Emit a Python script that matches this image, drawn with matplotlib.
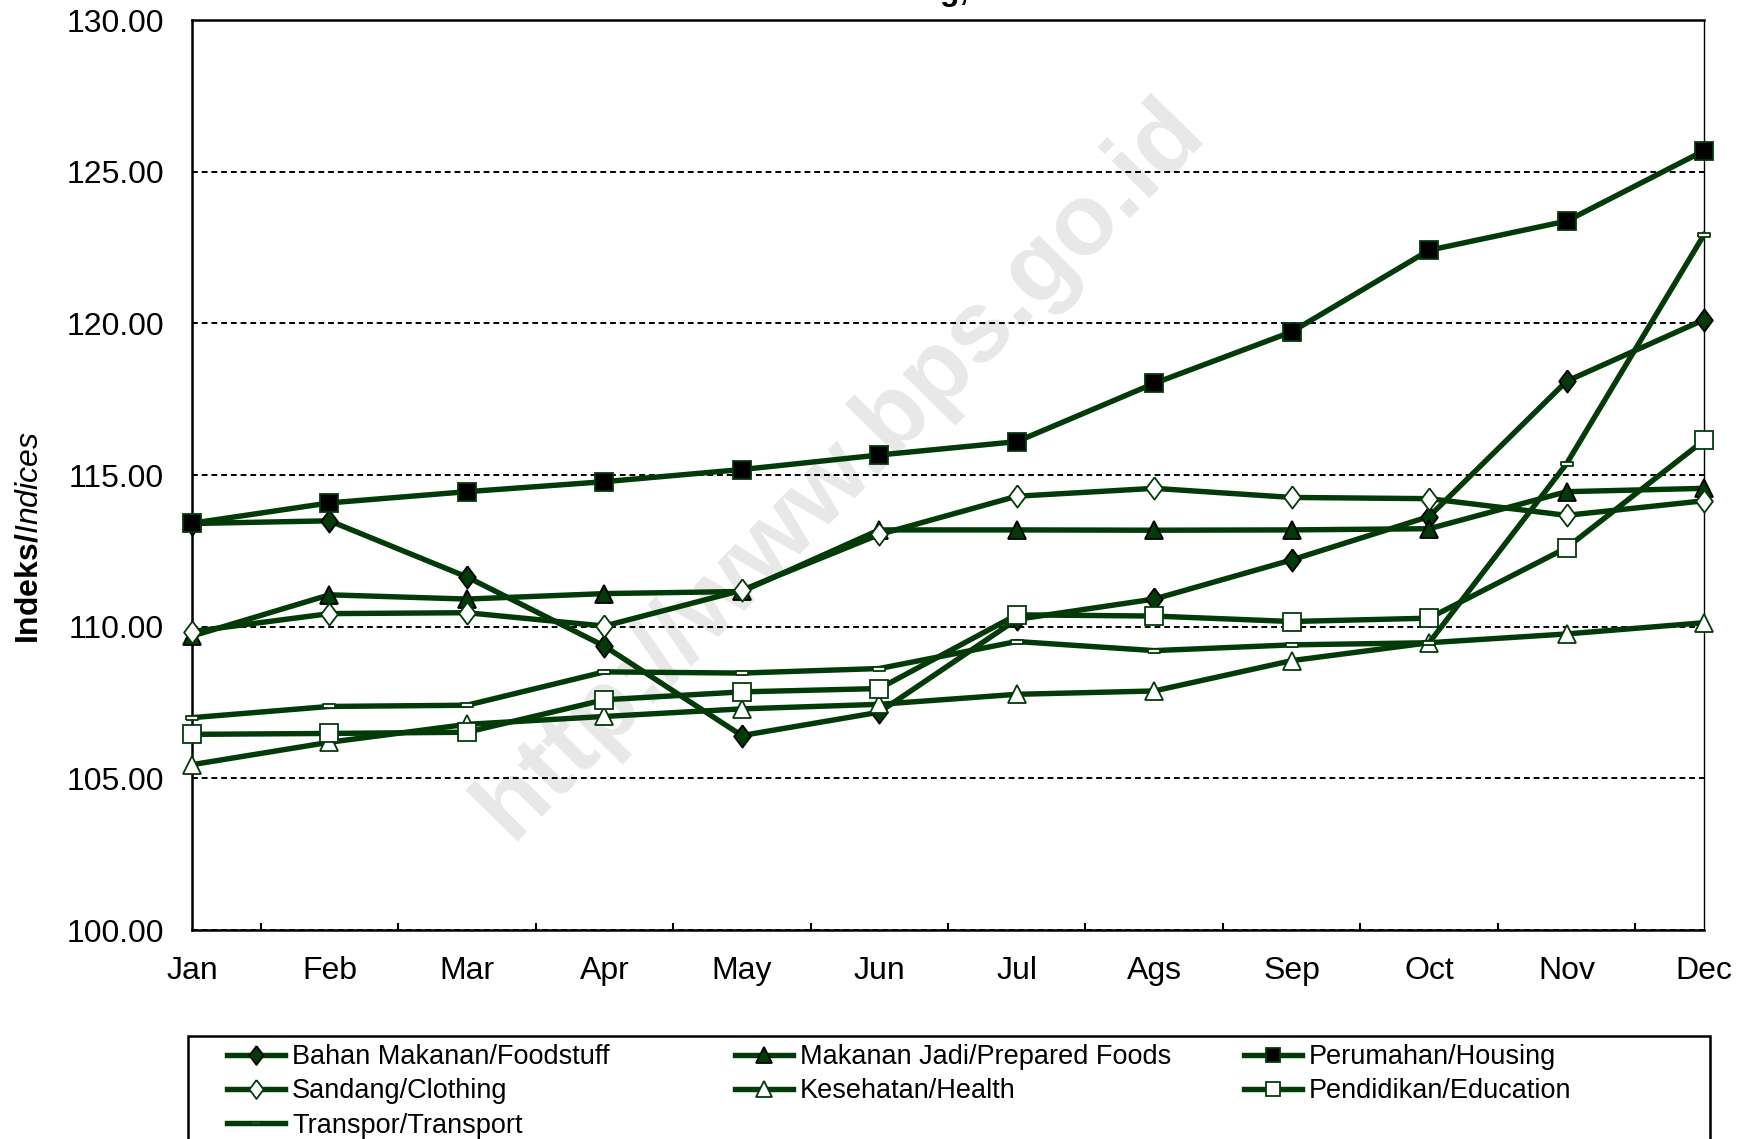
import numpy as np
import matplotlib
matplotlib.use("Agg")
import matplotlib.pyplot as plt
from matplotlib.patches import Rectangle

plt.rcParams["font.family"] = ["Liberation Sans", "DejaVu Sans"]
plt.rcParams["mathtext.fontset"] = "custom"
plt.rcParams["mathtext.bf"] = "Liberation Sans:bold"
plt.rcParams["mathtext.it"] = "Liberation Sans:italic"
plt.rcParams["mathtext.rm"] = "Liberation Sans"

months = ["Jan", "Feb", "Mar", "Apr", "May", "Jun", "Jul", "Ags", "Sep", "Oct", "Nov", "Dec"]

foodstuff = [113.40, 113.49, 111.64, 109.36, 106.41, 107.18, 110.24, 110.91, 112.20, 113.63, 118.09, 120.12]
prepared_foods = [109.69, 111.05, 110.91, 111.09, 111.16, 113.19, 113.19, 113.18, 113.19, 113.23, 114.45, 114.56]
housing = [113.41, 114.08, 114.45, 114.78, 115.18, 115.66, 116.10, 118.02, 119.72, 122.41, 123.37, 125.69]
clothing = [109.84, 110.43, 110.46, 110.02, 111.20, 113.04, 114.30, 114.56, 114.26, 114.22, 113.67, 114.15]
health = [105.45, 106.19, 106.78, 107.04, 107.29, 107.44, 107.77, 107.88, 108.88, 109.47, 109.76, 110.13]
education = [106.45, 106.48, 106.52, 107.59, 107.85, 107.96, 110.39, 110.35, 110.17, 110.28, 112.60, 116.14]
transport = [107.00, 107.37, 107.41, 108.51, 108.47, 108.62, 109.51, 109.21, 109.40, 109.47, 115.37, 122.92]

labels = ["Bahan Makanan/Foodstuff", "Makanan Jadi/Prepared Foods", "Perumahan/Housing",
          "Sandang/Clothing", "Kesehatan/Health", "Pendidikan/Education", "Transpor/Transport"]

green = "#023a08"
dash_marker = [(-1, -0.3), (1, -0.3), (1, 0.3), (-1, 0.3), (-1, -0.3)]
tall_diamond = [(0, 1), (0.75, 0), (0, -1), (-0.75, 0), (0, 1)]

styles = [
    dict(marker=tall_diamond, ms=16, mfc=green, mec="black"),
    dict(marker="^", ms=13, mfc=green, mec="black"),
    dict(marker="s", ms=12.5, mfc="black", mec=green),
    dict(marker=tall_diamond, ms=16, mfc="white", mec=green),
    dict(marker="^", ms=13, mfc="white", mec=green),
    dict(marker="s", ms=12.5, mfc="white", mec=green),
    dict(marker=dash_marker, ms=8, mfc="white", mec=green),
]
series = [foodstuff, prepared_foods, housing, clothing, health, education, transport]

fig = plt.figure(figsize=(17.52, 11.39), dpi=100)
ax = fig.add_axes([192 / 1752, 1 - 930 / 1139, (1704 - 192) / 1752, (930 - 20) / 1139])

x = np.arange(len(months))
lines = []
for vals, lab, st in zip(series, labels, styles):
    ln, = ax.plot(x, vals, color=green, lw=3.9, mew=1.3, label=lab, clip_on=False, zorder=3, **st)
    lines.append(ln)

ax.set_xlim(0, 11)
ax.set_ylim(100, 130)
ax.set_yticks(np.arange(100, 131, 5))
ax.set_yticklabels([f"{v:.2f}" for v in np.arange(100, 131, 5)])
ax.set_xticks(x)
ax.set_xticklabels(months)
ax.set_xticks(np.arange(0.5, 11, 1), minor=True)
ax.tick_params(axis="x", which="major", length=0, pad=19, labelsize=23)
ax.tick_params(axis="x", which="minor", direction="in", length=5, width=1.5)
ax.tick_params(axis="y", length=0, pad=20, labelsize=23)
ax.yaxis.grid(True, linestyle=(0, (3, 2)), color="black", lw=1.4, zorder=1)
ax.set_axisbelow(True)

for s in ["left", "bottom", "top"]:
    ax.spines[s].set_linewidth(1.8)
ax.spines["right"].set_linewidth(1.0)

# watermark
ax.text(0.4795, 0.588, "http://www.bps.go.id", transform=fig.transFigure, rotation=45.5,
        ha="center", va="center", rotation_mode="anchor", fontsize=73, weight="bold",
        color="#e8e8e8", zorder=0.5, clip_on=False)

# title (cut off at top edge)
fig.text(0.529, 1.0, "Semarang, 2010", ha="center", va="baseline", fontsize=23, weight="bold")

fig.text(30 / 1752, 1 - 538 / 1139, r"$\mathbf{Indeks/}\mathit{Indices}$", rotation=90,
         ha="center", va="center", fontsize=23)

# legend: three equal-width columns like the original
cols = [[0, 3, 6], [1, 4], [2, 5]]
col_x = [227 / 1752, 735 / 1752, 1244 / 1752]
for idx, cx in zip(cols, col_x):
    fig.legend([lines[i] for i in idx], [labels[i] for i in idx], loc="upper left",
               bbox_to_anchor=(cx, 1 - 1044 / 1139), frameon=False, borderpad=0,
               borderaxespad=0, handlelength=2.15, handletextpad=0.25, labelspacing=0.31,
               fontsize=19.5, numpoints=1, markerscale=0.85)

fig.add_artist(Rectangle((188 / 1752, -0.05), (1710 - 188) / 1752, 0.05 + 1 - 1036 / 1139,
                         transform=fig.transFigure, fill=False, lw=1.8, ec="black"))

plt.savefig("out.png", dpi=100)
